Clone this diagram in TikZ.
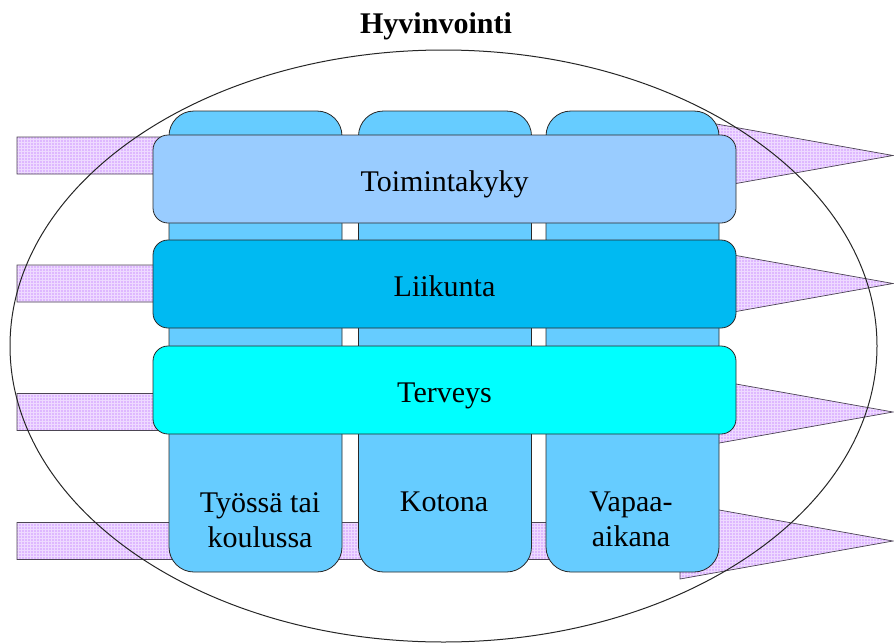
\documentclass[tikz,border=0pt]{standalone}
\usepackage{fontspec}
\setmainfont{Liberation Serif}
\usetikzlibrary{patterns}
\definecolor{colblue}{RGB}{102,204,255}
\definecolor{barone}{RGB}{153,204,255}
\definecolor{bartwo}{RGB}{0,186,242}
\definecolor{barthree}{RGB}{0,255,255}
\definecolor{arrowfill}{RGB}{222,184,255}
\definecolor{arrowgrid}{RGB}{238,218,255}
\definecolor{edgegray}{RGB}{40,40,40}
\begin{document}
\begin{tikzpicture}[x=1pt,y=-1pt,
  colbox/.style={draw=edgegray, line width=0.8pt, fill=colblue, rounded corners=25pt,
    minimum width=173pt, minimum height=461pt, inner sep=0pt},
  barbox/.style={draw=edgegray, line width=0.8pt, rounded corners=15pt,
    minimum width=583pt, minimum height=88pt, inner sep=0pt,
    text height=24pt, text depth=0pt,
    font=\fontsize{30}{35}\selectfont},
  coltext/.style={font=\fontsize{30}{35}\selectfont, align=center, inner sep=0pt, anchor=north},
  arrowshape/.style={draw=edgegray!80!arrowfill, line width=0.7pt,
    preaction={fill=arrowfill}, pattern=grid, pattern color=arrowgrid}
]
\useasboundingbox (0,0) rectangle (894,643);
% title
\node[font=\fontsize{30}{35}\selectfont\bfseries, anchor=base] (title) at (436,33) {Hyvinvointi};
% arrows
\foreach \c in {155.5,283.5,412,541}{
  \draw[arrowshape] (17,\c-18.5) -- (680,\c-18.5) -- (680,\c-38) -- (893,\c)
     -- (680,\c+38) -- (680,\c+18.5) -- (17,\c+18.5) -- cycle;
}
% ellipse
\draw[line width=1pt, black!85] (443.5,346) ellipse [x radius=433.5pt, y radius=296pt];
% columns
\node[colbox] (c1) at (255.5,341.5) {};
\node[colbox] (c2) at (445,341.5) {};
\node[colbox] (c3) at (632.5,341.5) {};
% bars
\node[barbox, fill=barone] (b1) at (444.5,179) {Toimintakyky};
\node[barbox, fill=bartwo] (b2) at (444.5,284) {Liikunta};
\node[barbox, fill=barthree] (b3) at (444.5,390) {Terveys};
% column texts
\node[coltext] (t1) at (260,492) {Työssä tai\\koulussa};
\node[coltext] (t2) at (444,492) {Kotona};
\node[coltext] (t3) at (631,492) {Vapaa-\\aikana};
\end{tikzpicture}
\end{document}
